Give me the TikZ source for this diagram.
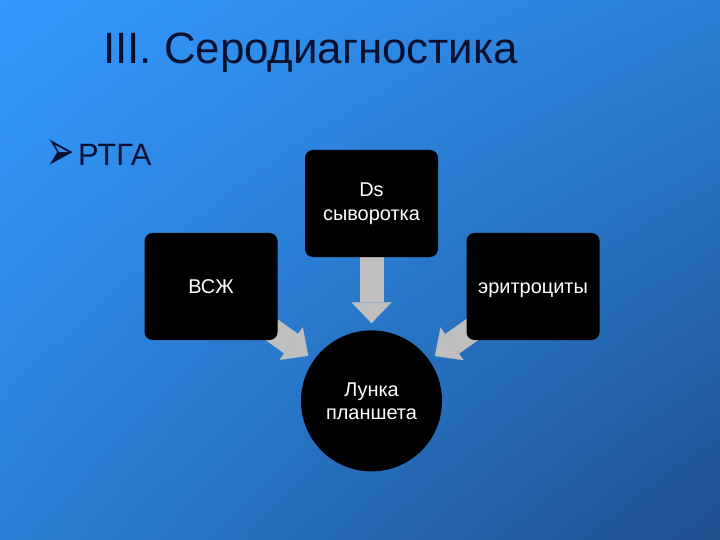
\documentclass[tikz,border=0pt]{standalone}
\usepackage{fontspec}
\setmainfont{Liberation Sans}
\newfontfamily\dingfont{DejaVu Sans}
\usetikzlibrary{arrows.meta,positioning,shadings}
\definecolor{slideTop}{HTML}{3399FF}
\definecolor{slideMid}{HTML}{2A80D5}
\definecolor{slideLow}{HTML}{1F4F8F}
\definecolor{titleInk}{HTML}{0A1030}
\definecolor{feedGray}{HTML}{BFBFBF}
\pgfdeclarelayer{back}
\pgfdeclarelayer{links}
\pgfsetlayers{back,links,main}

\begin{document}
\begin{tikzpicture}[x=1bp, y=1bp,
        block/.style={fill=black, rounded corners=8bp, minimum width=133bp, minimum height=107bp, align=center, text=white, font=\fontsize{20}{24}\selectfont},
        oneline/.style={text height=14.3bp, text depth=0pt},
        hub/.style={circle, fill=black, minimum size=141bp, inner sep=0pt, align=center, text=white, font=\fontsize{20}{23}\selectfont},
        feed/.style={draw=feedGray, line width=24bp, -{Triangle[width=40bp, length=21bp, line width=0.1bp]}, shorten >=7bp}
    ]
        % slide background
        \begin{pgfonlayer}{back}
            \shade[upper left=slideTop, upper right=slideMid, lower left=slideMid, lower right=slideLow] (0,0) rectangle (720,-540);
        \end{pgfonlayer}

        \node[anchor=base west, inner sep=0pt, text=titleInk, font=\fontsize{44}{50}\selectfont] (title) at (103,-64) {III. Серодиагностика};
        \node[inner sep=0pt, text=titleInk, font=\fontsize{26}{30}\dingfont] (mark) at (61,-155) {\scalebox{1.3}[2.2]{➢}};
        \node[anchor=base west, inner sep=0pt, text=titleInk, font=\fontsize{31}{36}\selectfont] (rtga) at (78,-166) {РТГА};

        \node[block] (ds) at (371.5,-203.5) {Ds\\сыворотка};
        \node[hub, below=73bp of ds] (plate) {Лунка\\планшета};
        \node[block, oneline] (vsz) at (211,-286.5) {ВСЖ};
        \node[block, oneline] (ery) at (533,-286.5) {эритроциты};

        \begin{pgfonlayer}{links}
            \draw[feed] (ds.center) -- (plate);
            \draw[feed] (vsz.center) -- (plate);
            \draw[feed] (ery.center) -- (plate);
        \end{pgfonlayer}
    \end{tikzpicture}
\end{document}
